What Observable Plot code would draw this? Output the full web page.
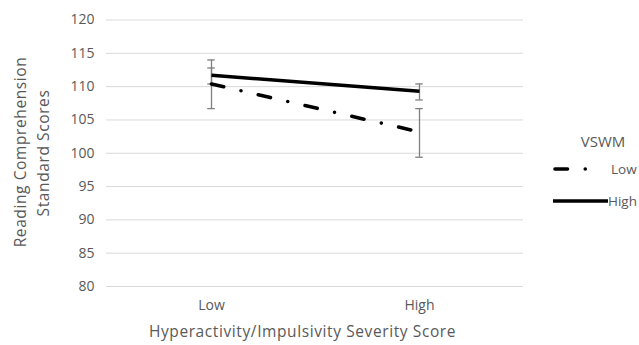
<!DOCTYPE html>
<html>
<head>
<meta charset="utf-8">
<script src="https://cdn.jsdelivr.net/npm/d3@7"></script>
<script src="https://cdn.jsdelivr.net/npm/@observablehq/plot@0.6"></script>
<style>
  html, body { margin: 0; padding: 0; background: #fff; }
  #wrap { position: relative; width: 639px; height: 345px; overflow: hidden; font-family: "Open Sans", sans-serif; }
  #overlay { position: absolute; left: 0; top: 0; }
</style>
</head>
<body>
<div id="wrap"></div>
<script>
// Data
const severity = ["Low", "High"];             // x categories
const vswmGroups = ["Low", "High"];           // series
const meanLowVSWM = [110.4, 103.2];
const meanHighVSWM = [111.7, 109.3];
const errLowVSWM = [[106.7, 114.0], [99.4, 106.7]];
const errHighVSWM = [[110.4, 112.8], [108.0, 110.4]];
const yTicks = [80, 85, 90, 95, 100, 105, 110, 115, 120];
const xTitle = "Hyperactivity/Impulsivity Severity Score";
const yTitle = ["Reading Comprehension", "Standard Scores"];
const legendTitle = "VSWM";

const rows = [];
severity.forEach((s, i) => {
  rows.push({sev: s, vswm: "Low", mean: meanLowVSWM[i], lo: errLowVSWM[i][0], hi: errLowVSWM[i][1]});
  rows.push({sev: s, vswm: "High", mean: meanHighVSWM[i], lo: errHighVSWM[i][0], hi: errHighVSWM[i][1]});
});
const lowRows = rows.filter(d => d.vswm === "Low");
const highRows = rows.filter(d => d.vswm === "High");
const capRows = rows.flatMap(d => [{sev: d.sev, v: d.lo}, {sev: d.sev, v: d.hi}]);

const gray = "#595959";
const W = 639, H = 345;
const mL = 106, mR = 116, mT = 19.5, mB = 59;
const bandW = (W - mL - mR) / severity.length;
const capHalf = 4;
const dashLow = "12.5,17.75,0,17.75";

const chart = Plot.plot({
  width: W,
  height: H,
  marginLeft: mL,
  marginRight: mR,
  marginTop: mT,
  marginBottom: mB,
  style: {fontFamily: "'Open Sans', sans-serif", fontSize: "14px", color: gray, background: "#fff"},
  x: {domain: severity, type: "band", padding: 0, label: null},
  y: {domain: [80, 120], label: null},
  marks: [
    Plot.gridY(yTicks, {stroke: "#d9d9d9", strokeOpacity: 1, strokeWidth: 1}),
    Plot.axisY(yTicks, {tickSize: 0, tickPadding: 12, label: null, fill: gray, fontSize: 14}),
    Plot.axisX({tickSize: 0, tickPadding: 14, label: null, fill: gray, fontSize: 14}),
    Plot.ruleX(rows, {x: "sev", y1: "lo", y2: "hi", stroke: "#7f7f7f", strokeWidth: 1.3}),
    Plot.tickY(capRows, {x: "sev", y: "v", stroke: "#7f7f7f", strokeWidth: 1.3, insetLeft: bandW / 2 - capHalf, insetRight: bandW / 2 - capHalf}),
    Plot.line(lowRows, {x: "sev", y: "mean", stroke: "#000", strokeWidth: 3.6, strokeLinecap: "round", strokeDasharray: dashLow}),
    Plot.line(highRows, {x: "sev", y: "mean", stroke: "#000", strokeWidth: 3.6, strokeLinecap: "butt"})
  ]
});
const wrap = document.getElementById("wrap");
wrap.appendChild(chart);

// Titles and legend
const ns = "http://www.w3.org/2000/svg";
const ov = document.createElementNS(ns, "svg");
ov.setAttribute("id", "overlay");
ov.setAttribute("width", W);
ov.setAttribute("height", H);
const ff = `font-family="'Open Sans', sans-serif"`;
ov.innerHTML = `
  <text x="302.5" y="331" text-anchor="middle" dominant-baseline="central" fill="${gray}" font-size="15.5" letter-spacing="0.6" ${ff}>${xTitle}</text>
  <text transform="translate(20,152) rotate(-90)" text-anchor="middle" dominant-baseline="central" fill="${gray}" font-size="15.5" letter-spacing="0.6" ${ff}>${yTitle[0]}</text>
  <text transform="translate(43,153) rotate(-90)" text-anchor="middle" dominant-baseline="central" fill="${gray}" font-size="15.5" letter-spacing="0.6" ${ff}>${yTitle[1]}</text>
  <text x="603" y="141" text-anchor="middle" dominant-baseline="central" fill="${gray}" font-size="15" ${ff}>${legendTitle}</text>
  <line x1="555" x2="603" y1="169" y2="169" stroke="#000" stroke-width="3.6" stroke-linecap="round" stroke-dasharray="${dashLow}"/>
  <text x="611" y="169" dominant-baseline="central" fill="${gray}" font-size="13.5" ${ff}>${vswmGroups[0]}</text>
  <line x1="553" x2="608" y1="201" y2="201" stroke="#000" stroke-width="3.6"/>
  <text x="608" y="201" dominant-baseline="central" fill="${gray}" font-size="13.5" ${ff}>${vswmGroups[1]}</text>
`;
wrap.appendChild(ov);
</script>
</body>
</html>
